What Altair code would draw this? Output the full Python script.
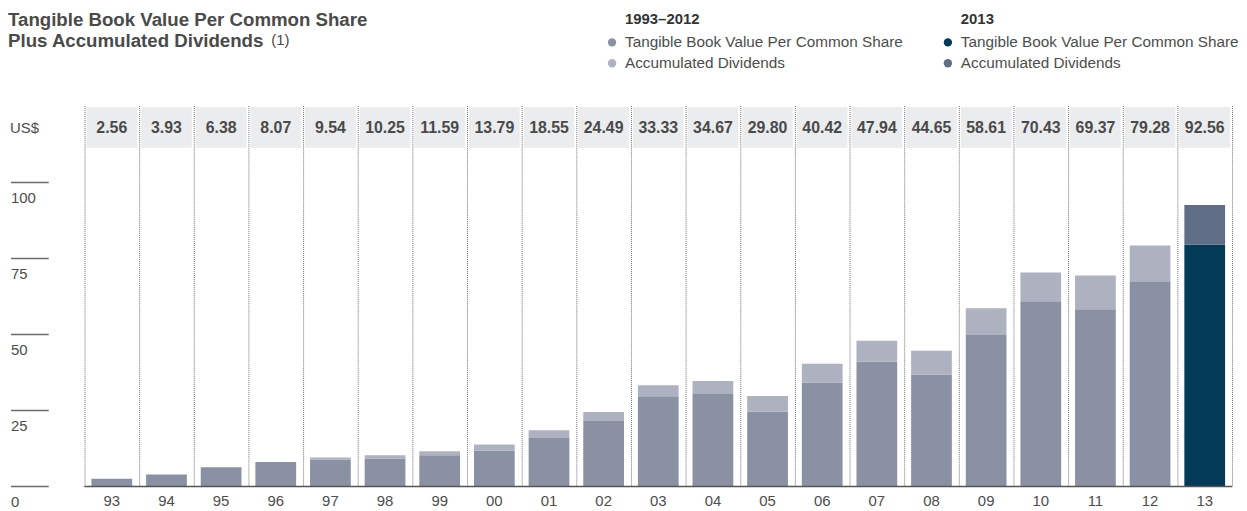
import altair as alt
import pandas as pd

# ---------------- data ----------------
years = ["93", "94", "95", "96", "97", "98", "99", "00", "01", "02", "03",
         "04", "05", "06", "07", "08", "09", "10", "11", "12", "13"]
total_labels = ["2.56", "3.93", "6.38", "8.07", "9.54", "10.25", "11.59", "13.79",
                "18.55", "24.49", "33.33", "34.67", "29.80", "40.42", "47.94",
                "44.65", "58.61", "70.43", "69.37", "79.28", "92.56"]
tangible_book_value = [2.56, 3.93, 6.38, 8.07, 8.90, 9.25, 10.30, 11.80, 15.95,
                       21.55, 29.70, 30.40, 24.60, 34.20, 41.00, 36.80, 49.80,
                       60.90, 58.30, 67.50, 79.50]
y_ticks = [0, 25, 50, 75, 100]
current_year = "13"

title_lines = ["Tangible Book Value Per Common Share", "Plus Accumulated Dividends"]
footnote = "(1)"
unit_label = "US$"
legend_headings = ["1993\u20132012", "2013"]
legend_items = ["Tangible Book Value Per Common Share", "Accumulated Dividends"]

# ---------------- style ----------------
FONT = "Liberation Sans"
color_keys = ["tbv", "div", "tbv_cur", "div_cur"]
color_vals = ["#8a91a3", "#aeb1bf", "#023a58", "#5f6e86"]

# ---------------- tables ----------------
rows = []
for yr, lab, tb in zip(years, total_labels, tangible_book_value):
    tot = float(lab)
    suffix = "_cur" if yr == current_year else ""
    rows.append({"year": yr, "lo": 0.0, "hi": tb, "key": "tbv" + suffix})
    rows.append({"year": yr, "lo": tb, "hi": tot, "key": "div" + suffix})
bars_df = pd.DataFrame(rows)
labels_df = pd.DataFrame({"year": years, "label": total_labels})
last_df = pd.DataFrame({"year": [years[-1]]})
ticks_df = pd.DataFrame({"tick": y_ticks, "tlabel": [str(t) for t in y_ticks]})
base_df = pd.DataFrame({"tick": [0]})

xscale = alt.Scale(domain=years, range=[77, 1232], paddingInner=0.2545, paddingOuter=0.12727)
yscale = alt.Scale(domain=[0, 100], range=[480, 174])
X = alt.X("year:N", scale=xscale, axis=None, sort=years)
Xc = alt.X("year:N", scale=xscale, axis=None, sort=years, bandPosition=0.5)
color_scale = alt.Scale(domain=color_keys, range=color_vals)

layers = []

# dotted separators
grid_style = dict(stroke="#6e6e6e", strokeWidth=1, strokeDash=[1, 1])
layers.append(alt.Chart(labels_df).mark_rule(xOffset=-27, **grid_style).encode(
    x=Xc, y=alt.value(97), y2=alt.value(480)))
layers.append(alt.Chart(last_df).mark_rule(xOffset=28, **grid_style).encode(
    x=Xc, y=alt.value(97), y2=alt.value(480)))

# value boxes
layers.append(alt.Chart(labels_df).mark_bar(width=51, fill="#ebecee").encode(
    x=X, y=alt.value(98), y2=alt.value(139)))
layers.append(alt.Chart(labels_df).mark_text(
    font=FONT, fontSize=16, fontWeight="bold", color="#4a4a4a", baseline="middle").encode(
    x=Xc, y=alt.value(119), text="label:N"))

# stacked bars
layers.append(alt.Chart(bars_df).mark_bar().encode(
    x=X,
    y=alt.Y("lo:Q", scale=yscale, axis=None),
    y2="hi:Q",
    color=alt.Color("key:N", scale=color_scale, legend=None)))

# baseline
layers.append(alt.Chart(base_df).mark_rule(stroke="#555555", strokeWidth=1.5).encode(
    y=alt.Y("tick:Q", scale=yscale, axis=None), x=alt.value(77), x2=alt.value(1232)))

# y tick lines + labels
layers.append(alt.Chart(ticks_df).mark_rule(stroke="#6b6b6b", strokeWidth=1.5).encode(
    y=alt.Y("tick:Q", scale=yscale, axis=None), x=alt.value(3), x2=alt.value(41)))
layers.append(alt.Chart(ticks_df).mark_text(
    font=FONT, fontSize=15, color="#4d4d4d", align="left", baseline="middle", dy=16).encode(
    y=alt.Y("tick:Q", scale=yscale, axis=None), x=alt.value(3), text="tlabel:N"))

# x labels
layers.append(alt.Chart(labels_df).mark_text(
    font=FONT, fontSize=15, color="#4d4d4d", baseline="middle").encode(
    x=Xc, y=alt.value(495), text="year:N"))


def text_layer(txt, x, y, size, weight="normal", color="#4d4d4d"):
    df = pd.DataFrame({"t": [txt]})
    return alt.Chart(df).mark_text(
        font=FONT, fontSize=size, fontWeight=weight, color=color,
        align="left", baseline="middle").encode(
        x=alt.value(x), y=alt.value(y), text="t:N")


def dot_layer(key, x, y):
    df = pd.DataFrame({"key": [key]})
    return alt.Chart(df).mark_point(filled=True, size=70, opacity=1).encode(
        x=alt.value(x), y=alt.value(y),
        color=alt.Color("key:N", scale=color_scale, legend=None))


# title
layers.append(text_layer(title_lines[0], 0, 10, 18.8, "bold", "#4a4a4a"))
layers.append(text_layer(title_lines[1], 0, 32, 18.8, "bold", "#4a4a4a"))
layers.append(text_layer(footnote, 265, 31, 15, "normal", "#4a4a4a"))
layers.append(text_layer(unit_label, 2, 119, 15))

# legend
for gx, heading, keys in [(621, legend_headings[0], ["tbv", "div"]),
                          (959, legend_headings[1], ["tbv_cur", "div_cur"])]:
    layers.append(text_layer(heading, gx, 9, 15, "bold", "#333333"))
    for i, (item, key) in enumerate(zip(legend_items, keys)):
        yy = 33 + 21 * i
        layers.append(dot_layer(key, gx - 13, yy))
        layers.append(text_layer(item, gx, yy, 15.4))

chart = alt.layer(*layers).properties(
    width=1239, height=503,
    autosize=alt.AutoSizeParams(type="none"),
    padding=0,
    background="white",
).configure_view(stroke=None)

chart.save("out.html", embed_options={"renderer": "svg", "actions": False})
